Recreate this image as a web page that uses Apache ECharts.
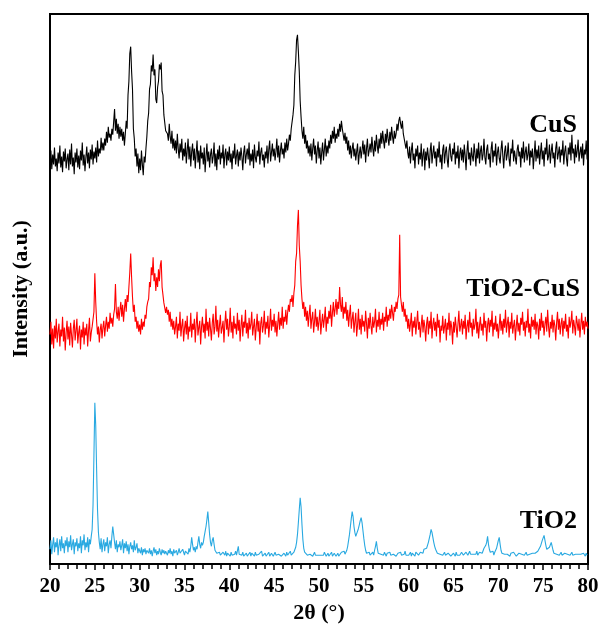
<!DOCTYPE html>
<html>
<head>
<meta charset="utf-8">
<script src="https://cdn.jsdelivr.net/npm/echarts@6/dist/echarts.min.js"></script>
<style>
  html, body { margin: 0; padding: 0; background: #fff; }
  #chart { width: 603px; height: 629px; }
</style>
</head>
<body>
<div id="chart"></div>
<script>
// XRD scan: 2θ from 20° to 80° in 0.1° steps
const scanStart = 20;
const scanStep = 0.1;

// Tick labels of the 2θ axis
const xTicks = ['20', '25', '30', '35', '40', '45', '50', '55', '60', '65', '70', '75', '80'];

// Sample names (top to bottom) and their vertical stacking offsets
const sampleNames = ['CuS', 'TiO2-CuS', 'TiO2'];
const stackOffsets = [390, 210, 0];

// CuS intensity (a.u.), one row per degree
const cusIntensity = [
  18, 28, 9, 24, 14, 31, 12, 20, 7, 26,
  15, 33, 11, 22, 6, 27, 17, 30, 10, 19,
  25, 8, 29, 14, 35, 12, 21, 4, 26, 16,
  30, 11, 23, 9, 28, 18, 36, 13, 24, 7,
  21, 32, 15, 26, 10, 29, 19, 34, 14, 27,
  20, 31, 16, 38, 22, 30, 25, 41, 28, 36,
  28, 40, 33, 47, 36, 52, 41, 45, 38, 50,
  44, 57, 70, 48, 60, 45, 55, 40, 52, 42,
  50, 38, 47, 33, 45, 58, 50, 84, 98, 126,
  133, 108, 90, 50, 40, 22, 30, 12, 25, 5,
  20, 8, 28, 14, 3, 22, 16, 30, 42, 58,
  66, 90, 95, 114, 108, 125, 104, 110, 80, 76,
  92, 98, 115, 110, 117, 88, 84, 64, 62, 48,
  50, 45, 38, 55, 42, 35, 48, 30, 40, 28,
  38, 25, 45, 30, 20, 35, 26, 40, 18, 30,
  22, 36, 15, 28, 40, 19, 32, 12, 27, 35,
  18, 30, 10, 25, 38, 16, 28, 9, 33, 20,
  26, 14, 31, 6, 22, 35, 17, 27, 11, 24,
  30, 15, 22, 36, 12, 25, 8, 29, 19, 33,
  14, 26, 20, 34, 10, 24, 30, 13, 27, 18,
  32, 16, 25, 9, 28, 20, 35, 14, 23, 29,
  12, 27, 18, 31, 22, 8, 26, 33, 15, 24,
  30, 19, 36, 13, 25, 17, 29, 10, 34, 21,
  16, 28, 22, 37, 14, 26, 31, 18, 24, 11,
  27, 20, 33, 15, 29, 38, 17, 26, 35, 22,
  30, 18, 27, 40, 21, 33, 16, 28, 36, 24,
  30, 20, 36, 26, 40, 28, 35, 44, 38, 50,
  48, 64, 74, 104, 118, 140, 145, 128, 108, 78,
  62, 48, 40, 52, 35, 44, 30, 38, 25, 33,
  22, 35, 18, 30, 40, 24, 33, 15, 28, 37,
  20, 31, 14, 26, 36, 18, 29, 40, 22, 33,
  25, 38, 30, 44, 35, 48, 40, 52, 36, 45,
  40, 50, 42, 55, 47, 58, 50, 44, 38, 46,
  35, 42, 28, 38, 24, 33, 20, 30, 36, 22,
  30, 18, 27, 35, 14, 25, 32, 20, 28, 38,
  24, 34, 16, 30, 40, 22, 28, 35, 26, 42,
  30, 22, 38, 27, 44, 33, 25, 40, 30, 46,
  35, 48, 38, 30, 45, 36, 50, 40, 33, 47,
  38, 52, 42, 35, 48, 40, 45, 55, 48, 58,
  62, 55, 50, 58, 45, 40, 35, 30, 38, 26,
  20, 32, 15, 28, 36, 18, 25, 10, 30, 22,
  33, 14, 26, 19, 35, 12, 24, 30, 8, 27,
  18, 31, 22, 10, 28, 36, 15, 25, 33, 20,
  27, 12, 30, 21, 37, 16, 24, 9, 29, 34,
  15, 26, 32, 19, 11, 28, 35, 22, 17, 30,
  24, 36, 14, 27, 20, 33, 10, 25, 31, 18,
  29, 16, 34, 23, 8, 27, 38, 19, 26, 13,
  31, 22, 17, 35, 25, 12, 30, 20, 36, 15,
  27, 33, 18, 24, 40, 21, 14, 29, 34, 19,
  25, 11, 30, 37, 16, 28, 22, 35, 13, 26,
  32, 20, 15, 29, 38, 23, 10, 27, 33, 18,
  24, 36, 19, 12, 30, 25, 39, 17, 28, 21,
  14, 29, 34, 22, 27, 11, 31, 20, 37, 16,
  26, 32, 18, 24, 35, 13, 28, 21, 30, 9,
  23, 38, 17, 29, 20, 33, 14, 26, 36, 19,
  28, 12, 31, 24, 40, 18, 22, 34, 15, 27,
  35, 20, 26, 11, 30, 37, 19, 25, 32, 16,
  29, 23, 38, 14, 27, 33, 20, 12, 31, 24,
  36, 18, 44, 25, 30, 15, 34, 21, 28, 39,
  17, 26, 32, 20, 35, 13, 29, 24, 38, 19,
  27
];

// TiO2-CuS composite intensity (a.u.)
const compositeIntensity = [
  22, 35, 12, 28, 8, 31, 18, 38, 14, 25,
  33, 10, 27, 20, 40, 15, 29, 6, 24, 36,
  17, 30, 11, 34, 22, 9, 28, 37, 16, 26,
  38, 13, 24, 31, 7, 27, 19, 35, 12, 29,
  21, 33, 10, 26, 39, 15, 24, 30, 28, 45,
  84, 55, 35, 22, 30, 14, 27, 33, 18, 29,
  36, 20, 31, 40, 25, 35, 28, 44, 33, 39,
  30, 42, 48, 73, 45, 38, 50, 36, 47, 55,
  40, 52, 35, 48, 58, 45, 62, 55, 70, 85,
  104, 80, 60, 45, 52, 35, 40, 28, 36, 25,
  32, 22, 38, 27, 35, 30, 42, 38, 50, 55,
  58, 75, 70, 90, 82, 100, 76, 84, 66, 80,
  70, 88, 76, 92, 97, 70, 72, 54, 56, 44,
  50, 42, 47, 35, 45, 30, 38, 27, 36, 22,
  30, 40, 18, 33, 26, 45, 20, 31, 38, 15,
  28, 36, 22, 41, 17, 30, 25, 44, 19, 33,
  27, 38, 14, 32, 45, 21, 29, 36, 12, 30,
  40, 24, 33, 18, 48, 26, 35, 20, 39, 28,
  16, 34, 43, 22, 30, 51, 25, 37, 19, 31,
  42, 23, 29, 36, 14, 33, 46, 27, 38, 20,
  30, 49, 24, 35, 18, 41, 28, 33, 22, 44,
  26, 37, 15, 31, 42, 20, 35, 29, 47, 23,
  34, 18, 39, 27, 32, 45, 21, 30, 38, 16,
  29, 43, 25, 36, 12, 33, 40, 24, 31, 46,
  22, 35, 28, 41, 19, 32, 48, 26, 37, 30,
  43, 24, 36, 20, 33, 45, 27, 39, 31, 50,
  28, 40, 35, 47, 32, 44, 52, 45, 58, 55,
  62, 50, 64, 72, 96, 104, 132, 148, 112, 96,
  72, 58, 48, 55, 40, 50, 36, 46, 30, 42,
  52, 28, 38, 45, 24, 35, 48, 30, 40, 26,
  36, 47, 22, 34, 43, 29, 38, 50, 25, 40,
  33, 46, 38, 52, 30, 44, 55, 40, 48, 58,
  42, 55, 48, 70, 52, 45, 60, 38, 50, 43,
  55, 36, 47, 30, 42, 52, 28, 38, 45, 24,
  35, 44, 20, 32, 48, 27, 38, 22, 42, 30,
  36, 25, 46, 33, 18, 39, 28, 44, 31, 22,
  40, 29, 35, 48, 24, 37, 30, 45, 27, 38,
  32, 44, 26, 40, 35, 50, 30, 42, 36, 48,
  38, 52, 44, 36, 50, 45, 55, 48, 58, 62,
  123, 60, 52, 45, 55, 40, 48, 35, 42, 28,
  38, 25, 33, 44, 20, 36, 29, 40, 22, 34,
  46, 27, 35, 19, 31, 42, 24, 37, 30, 15,
  33, 40, 22, 36, 28, 45, 18, 32, 39, 26,
  35, 20, 43, 29, 37, 14, 31, 26, 41, 23,
  30, 38, 16, 34, 27, 44, 21, 36, 29, 12,
  35, 24, 40, 30, 19, 33, 46, 25, 31, 38,
  22, 36, 28, 42, 17, 30, 37, 24, 45, 29,
  34, 20, 38, 27, 32, 48, 23, 35, 18, 31,
  40, 26, 33, 21, 44, 29, 36, 15, 32, 39,
  24, 37, 30, 46, 20, 34, 27, 41, 25, 33,
  18, 31, 43, 26, 36, 22, 38, 29, 47, 24,
  33, 40, 19, 35, 28, 44, 23, 31, 37, 16,
  30, 42, 25, 34, 21, 39, 32, 45, 26, 35,
  20, 36, 29, 48, 24, 33, 18, 40, 30, 37,
  27, 43, 22, 35, 31, 17, 38, 26, 44, 29,
  36, 21, 33, 40, 25, 47, 30, 19, 35, 28,
  42, 24, 37, 31, 16, 34, 45, 27, 38, 22,
  33, 39, 20, 36, 28, 43, 25, 32, 18, 40,
  29, 35, 46, 23, 37, 30, 21, 41, 34, 26,
  38, 19, 32, 44, 27, 36, 22, 40, 30, 35,
  28
];

// TiO2 (anatase) intensity (a.u.)
const tio2Intensity = [
  15, 24, 10, 20, 27, 12, 22, 17, 26, 9,
  19, 25, 13, 28, 16, 21, 11, 24, 18, 27,
  12, 23, 17, 29, 14, 20, 25, 10, 22, 18,
  26, 13, 21, 16, 28, 11, 24, 19, 30, 14,
  22, 17, 27, 12, 25, 20, 28, 35, 60, 110,
  163, 140, 95, 55, 32, 22, 15, 26, 12, 20,
  25, 13, 22, 18, 27, 11, 20, 24, 16, 28,
  38, 30, 22, 15, 24, 12, 20, 17, 23, 14,
  19, 25, 11, 21, 16, 23, 13, 20, 10, 18,
  22, 15, 19, 12, 24, 14, 17, 21, 11, 16,
  14, 11, 17, 9, 15, 12, 16, 10, 14, 13,
  11, 16, 10, 14, 8, 13, 17, 11, 15, 9,
  13, 10, 16, 12, 9, 15, 11, 14, 10, 13,
  12, 9, 14, 11, 16, 10, 13, 8, 15, 11,
  10, 14, 9, 12, 16, 11, 13, 10, 15, 12,
  9, 13, 11, 14, 10, 16, 12, 18, 27, 20,
  14, 17, 12, 18, 15, 22, 28, 20, 16, 22,
  19, 22, 28, 33, 38, 45, 53, 42, 30, 22,
  18, 24, 27, 20, 14, 16, 11, 13, 10, 12,
  9, 11, 8, 12, 10, 9, 13, 8, 11, 9,
  10, 8, 12, 9, 11, 8, 10, 13, 9, 10,
  18, 10, 8, 11, 9, 12, 8, 10, 9, 11,
  8, 10, 9, 12, 8, 11, 9, 10, 8, 12,
  9, 11, 8, 10, 12, 9, 13, 8, 10, 9,
  11, 8, 10, 9, 12, 8, 10, 11, 9, 8,
  10, 12, 9, 8, 11, 10, 9, 12, 8, 10,
  9, 11, 10, 8, 12, 9, 11, 10, 13, 9,
  11, 10, 12, 14, 17, 22, 30, 42, 55, 67,
  58, 40, 25, 16, 12, 10, 13, 9, 11, 8,
  10, 9, 11, 8, 10, 12, 9, 8, 11, 9,
  8, 10, 9, 11, 8, 9, 12, 10, 8, 9,
  11, 8, 10, 9, 12, 8, 9, 11, 10, 8,
  9, 11, 8, 10, 9, 12, 10, 11, 13, 10,
  12, 14, 18, 24, 30, 38, 46, 53, 48, 38,
  32, 28, 26, 30, 36, 40, 44, 47, 42, 34,
  26, 19, 14, 11, 13, 10, 12, 9, 11, 10,
  12, 9, 14, 18, 23, 16, 11, 9, 12, 10,
  8, 11, 9, 12, 10, 8, 11, 9, 10, 12,
  9, 8, 11, 10, 9, 12, 8, 10, 11, 9,
  10, 12, 9, 8, 11, 10, 13, 9, 8, 11,
  9, 10, 12, 8, 11, 9, 10, 8, 12, 10,
  11, 9, 8, 12, 10, 13, 11, 15, 14, 17,
  16, 19, 22, 26, 30, 35, 32, 27, 22, 18,
  15, 13, 11, 12, 9, 10, 8, 11, 9, 10,
  12, 9, 8, 10, 11, 9, 12, 8, 10, 9,
  11, 10, 8, 12, 9, 11, 10, 9, 8, 12,
  10, 9, 11, 8, 12, 10, 9, 11, 13, 10,
  9, 12, 10, 11, 8, 10, 13, 9, 11, 12,
  10, 14, 11, 13, 16, 15, 19, 22, 28, 20,
  15, 12, 10, 11, 13, 9, 12, 14, 16, 20,
  24, 27, 20, 14, 11, 12, 9, 10, 11, 8,
  10, 9, 12, 8, 11, 10, 9, 12, 10, 11,
  8, 10, 9, 11, 12, 9, 10, 8, 11, 9,
  10, 12, 9, 11, 8, 10, 12, 9, 11, 10,
  9, 11, 10, 12, 13, 15, 14, 18, 20, 24,
  25, 29, 24, 19, 15, 14, 16, 17, 19, 22,
  20, 14, 11, 9, 12, 10, 8, 11, 9, 10,
  12, 9, 10, 8, 11, 9, 12, 10, 8, 11,
  9, 10, 12, 9, 11, 8, 10, 9, 12, 10,
  11, 8, 10, 12, 9, 11, 10, 8, 11, 9,
  10
];

const lineColors = ['#000000', '#ff0000', '#29a9e1'];
const serif = '"Liberation Serif", "Times New Roman", serif';

function toPoints(values, offset) {
  return values.map((v, i) => [+(scanStart + i * scanStep).toFixed(1), v + offset]);
}

const patterns = [cusIntensity, compositeIntensity, tio2Intensity];

const chart = echarts.init(document.getElementById('chart'), null, { renderer: 'canvas' });

chart.setOption({
  animation: false,
  backgroundColor: '#ffffff',
  grid: {
    left: 50, right: 15, top: 14, bottom: 59,
    show: true, borderColor: '#000', borderWidth: 2, backgroundColor: 'transparent'
  },
  xAxis: {
    type: 'value',
    min: 20, max: 80, interval: 5,
    name: '2θ (°)',
    nameLocation: 'middle',
    nameGap: 30,
    nameTextStyle: { fontFamily: serif, fontWeight: 'bold', fontSize: 22, color: '#000' },
    axisLine: { show: true, lineStyle: { color: '#000', width: 2 } },
    axisTick: { show: true, inside: false, length: 6, lineStyle: { color: '#000', width: 1.5 } },
    minorTick: { show: true, splitNumber: 5, length: 5, lineStyle: { color: '#000', width: 1.5 } },
    axisLabel: {
      margin: 12,
      fontFamily: serif, fontWeight: 'bold', fontSize: 21, color: '#000',
      formatter: v => xTicks[Math.round((v - 20) / 5)]
    },
    splitLine: { show: false }
  },
  yAxis: {
    type: 'value',
    min: 0, max: 556,
    name: 'Intensity (a.u.)',
    nameLocation: 'middle',
    nameGap: 18,
    nameTextStyle: { fontFamily: serif, fontWeight: 'bold', fontSize: 22, color: '#000' },
    axisLine: { show: true, lineStyle: { color: '#000', width: 2 } },
    axisTick: { show: false },
    axisLabel: { show: false },
    splitLine: { show: false }
  },
  series: patterns.map((values, k) => ({
    name: sampleNames[k],
    type: 'line',
    data: toPoints(values, stackOffsets[k]),
    showSymbol: false,
    symbol: 'none',
    sampling: null,
    lineStyle: { color: lineColors[k], width: 1.1 },
    z: 3 - k
  })),
  graphic: [
    { type: 'text', right: 26, top: 112, style: { text: sampleNames[0], font: 'bold 26px ' + serif, fill: '#000' } },
    { type: 'text', right: 23, top: 276, style: { text: sampleNames[1], font: 'bold 26px ' + serif, fill: '#000' } },
    { type: 'text', right: 26, top: 508, style: { text: sampleNames[2], font: 'bold 26px ' + serif, fill: '#000' } }
  ]
});
</script>
</body>
</html>
